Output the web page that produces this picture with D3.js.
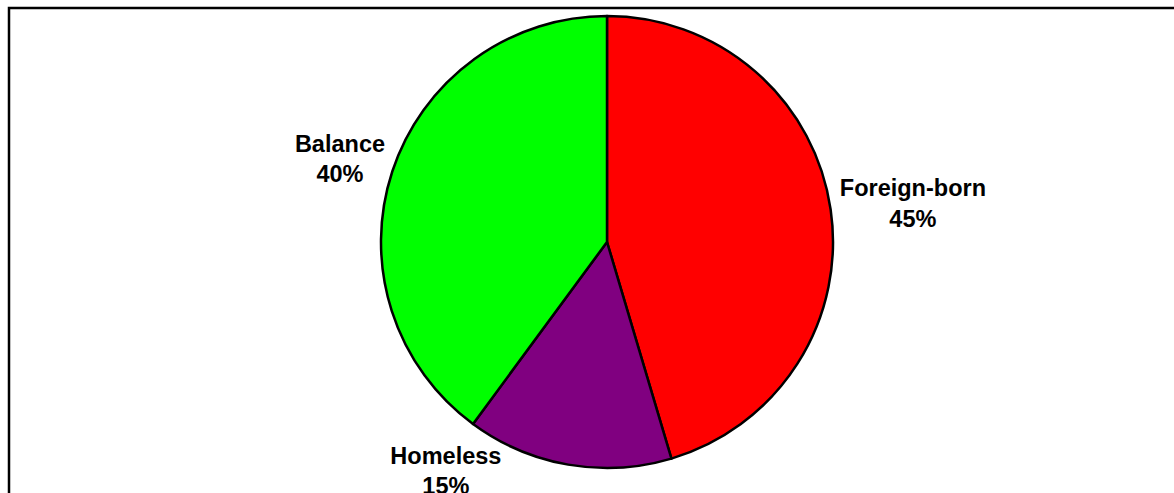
<!DOCTYPE html>
<html>
<head>
<meta charset="utf-8">
<script src="https://cdn.jsdelivr.net/npm/d3@7"></script>
<style>
  html, body { margin: 0; padding: 0; background: #fff; }
  svg { display: block; }
  .label { font-family: "Liberation Sans", Arial, sans-serif; font-weight: bold; font-size: 23.5px; fill: #000; }
</style>
</head>
<body>
<svg id="chart"></svg>
<script>
const categories = ["Foreign-born", "Homeless", "Balance"];
const values = [45.4, 14.7, 39.9];
const colors = ["#ff0000", "#800080", "#00ff00"];

const WIDTH = 1174, HEIGHT = 493;
const CX = 607, CY = 242, R = 226;

const svg = d3.select("#chart")
  .attr("width", WIDTH)
  .attr("height", HEIGHT);

svg.append("rect")
  .attr("width", WIDTH)
  .attr("height", HEIGHT)
  .attr("fill", "#fff");

// chart area frame (right/bottom edges fall outside the picture)
svg.append("rect")
  .attr("x", 9)
  .attr("y", 8)
  .attr("width", WIDTH + 20)
  .attr("height", HEIGHT + 20)
  .attr("fill", "none")
  .attr("stroke", "#000")
  .attr("stroke-width", 2.5);

const data = categories.map((c, i) => ({name: c, value: values[i], color: colors[i]}));

const pie = d3.pie().sort(null).value(d => d.value);
const arc = d3.arc().innerRadius(0).outerRadius(R);

const g = svg.append("g").attr("transform", `translate(${CX},${CY})`);

const arcs = pie(data);

g.selectAll("path")
  .data(arcs)
  .join("path")
  .attr("d", arc)
  .attr("fill", d => d.data.color)
  .attr("stroke", "#000")
  .attr("stroke-width", 2.5)
  .attr("stroke-linejoin", "round");

// outside-end labels: box pushed out from the edge along the slice's mid angle
const fmt = d3.format(".0%");
const total = d3.sum(values);
const LINE = 30.5;
// Homeless label was moved by hand to stay inside the plot area
const nudge = {"Homeless": {dx: -111, dy: -32}};

arcs.forEach(a => {
  const mid = (a.startAngle + a.endAngle) / 2;
  const s = Math.sin(mid), c = Math.cos(mid);
  const t = g.append("text").attr("class", "label").attr("text-anchor", "middle");
  t.append("tspan").attr("x", 0).attr("dy", 0).text(a.data.name);
  t.append("tspan").attr("x", 0).attr("dy", LINE).text(fmt(Math.round(a.data.value) / 100));
  const hw = t.node().getBBox().width / 2;
  const hh = 29;
  const n = nudge[a.data.name] || {dx: 0, dy: 0};
  const px = (R + 10) * s + hw * s + n.dx;
  const py = -(R + 10) * c - hh * c + n.dy;
  // block center at py; first baseline sits above it
  t.attr("transform", `translate(${px},${py - 7.5})`);
});
</script>
</body>
</html>
